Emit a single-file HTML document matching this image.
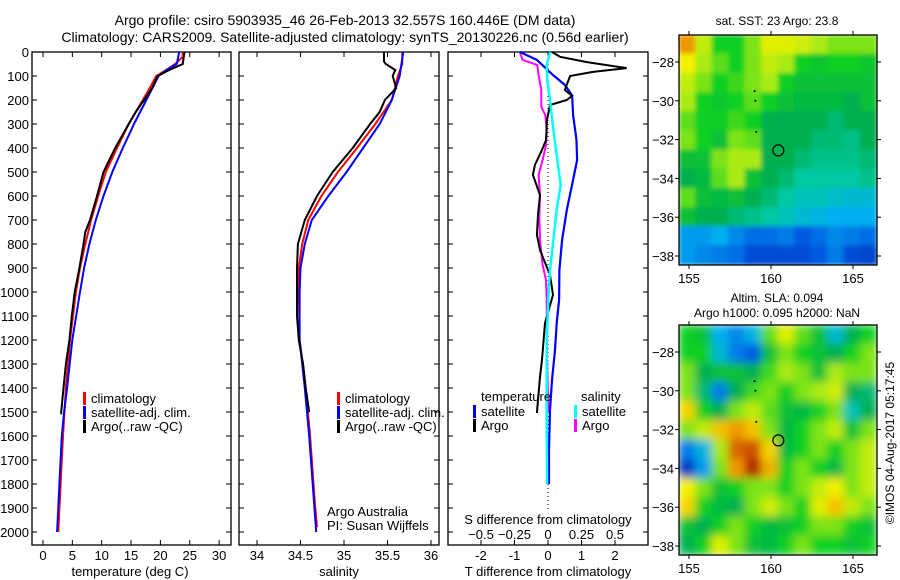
<!DOCTYPE html>
<html><head><meta charset="utf-8">
<style>
body{margin:0;background:#fff;}
svg{display:block;font-family:"Liberation Sans",sans-serif;}
text{fill:#000;}
</style></head>
<body>
<svg id="c" width="900" height="580" viewBox="0 0 900 580" xmlns="http://www.w3.org/2000/svg">
<defs>
<filter id="blurS" x="0" y="0" width="1" height="1"><feGaussianBlur stdDeviation="2.5" edgeMode="duplicate"/></filter>
<filter id="blurA" x="0" y="0" width="1" height="1"><feGaussianBlur stdDeviation="4.5" edgeMode="duplicate"/></filter>
<clipPath id="clipSST"><rect x="679" y="35" width="198" height="230"/></clipPath>
<clipPath id="clipSLA"><rect x="679" y="325" width="198" height="230"/></clipPath>
</defs>
<text x="345" y="25" text-anchor="middle" font-size="14">Argo profile: csiro 5903935_46 26-Feb-2013 32.557S 160.446E (DM data)</text>
<text x="345" y="42" text-anchor="middle" font-size="14">Climatology: CARS2009. Satellite-adjusted climatology: synTS_20130226.nc (0.56d earlier)</text>
<g id="g"></g>
</svg>
<script>
// ---------- data ----------
const tempDepth = [0,20,50,75,100,150,200,300,400,500,600,700,800,900,1000,1200,1400,1600,1800,2000];
const tempClim  = [23.8,23.8,22.5,21,19.3,18.2,17,14.6,12.6,10.7,9.4,8.2,7.2,6.3,5.6,4.6,3.9,3.4,3.0,2.6];
const tempSatDepth = [0,50,75,100,200,300,400,500,600,700,800,900,1000,1200,1400,1500,1600,1800,2000];
const tempSat   = [23.2,22.8,21,19.7,17.6,15.5,13.6,11.8,10.3,9,7.9,7,6.3,5,4.1,3.6,3.2,2.8,2.4];
const argoDepth = [0,50,75,100,150,200,250,300,400,500,600,700,750,800,900,1000,1100,1200,1300,1400,1500,1510];
const argoTemp  = [24.1,23.8,21.5,19.5,18.6,17.2,15.8,14.6,12.3,10.3,9.2,8,7.2,6.9,6.2,5.4,4.9,4.5,3.9,3.5,3.1,3.1];
const salDepth = [0,50,100,200,300,400,500,600,700,800,900,1000,1200,1400,1600,1800,1900,1980];
const salClim  = [35.67,35.67,35.62,35.55,35.36,35.15,34.93,34.74,34.59,34.52,34.48,34.48,34.49,34.56,34.61,34.65,34.67,34.69];
const salSatDepth = [0,100,200,300,400,500,600,700,800,900,1000,1200,1400,1600,1800,2000];
const salSat   = [35.68,35.64,35.55,35.41,35.22,35.03,34.82,34.63,34.55,34.5,34.49,34.49,34.55,34.6,34.64,34.68];
const argoSalDepth = [0,40,50,75,100,150,200,250,300,400,500,600,700,800,900,1000,1100,1200,1300,1400,1500];
const argoSal  = [35.46,35.46,35.48,35.59,35.56,35.6,35.47,35.41,35.3,35.1,34.87,34.69,34.55,34.47,34.46,34.46,34.46,34.48,34.53,34.56,34.6];
const dTArgoDepth = [0,20,42,67,83,100,158,183,200,221,283,367,408,471,512,596,679,762,825,929,1012,1129,1283,1354,1450,1504];
const dTArgo = [0.12,0.36,1.16,2.35,1.34,0.66,0.5,0.72,0.56,0.06,-0.03,-0.06,-0.18,-0.39,-0.45,-0.24,-0.3,-0.33,-0.24,0.06,0.15,-0.09,-0.18,-0.24,-0.3,-0.33];
const dTSatDepth = [0,33,96,137,180,262,367,450,533,658,783,908,1033,1129,1242,1367,1492,1658,1800];
const dTSat = [-0.84,-0.33,0.15,0.5,0.72,0.75,0.85,0.87,0.75,0.56,0.42,0.34,0.33,0.26,0.21,0.12,0.06,0.03,0.03];
const dSArgoDepth = [0,33,54,96,158,200,229,262,325,388,450,512,596,679,783,887,950,1033,1283,1450,1500];
const dSArgo = [-0.21,-0.19,-0.08,-0.07,-0.05,-0.05,-0.05,-0.02,-0.01,-0.015,-0.04,-0.07,-0.06,-0.065,-0.06,-0.04,-0.015,-0.01,-0.007,0,0.005];
const dSSatDepth = [0,54,117,200,325,471,554,658,783,908,992,1200,1500,1800];
const dSSat = [0.015,-0.01,-0.005,0.015,0.04,0.075,0.095,0.065,0.04,0.015,0.005,-0.01,-0.01,-0.007];
const depthTicks = [0,100,200,300,400,500,600,700,800,900,1000,1100,1200,1300,1400,1500,1600,1700,1800,1900,2000];
const tTicks = [0,5,10,15,20,25,30];
const sTicks = [34,34.5,35,35.5,36];
const sTickLabels = ["34","34.5","35","35.5","36"];
const dTTicks = [-2,-1,0,1,2];
const dSTicks = [-0.5,-0.25,0,0.25,0.5];
const lonTicks = [155,160,165];
const latTicks = [-28,-30,-32,-34,-36,-38];
const sstGrid = [
[.85,.68,.55,.55,.62,.72,.72,.7,.65,.62,.62,.62],
[.75,.65,.6,.55,.62,.68,.65,.55,.52,.55,.55,.52],
[.68,.62,.55,.58,.62,.65,.55,.5,.5,.5,.5,.5],
[.65,.55,.52,.55,.6,.55,.5,.48,.48,.48,.45,.5],
[.6,.55,.55,.58,.55,.45,.45,.45,.45,.42,.45,.45],
[.62,.55,.5,.62,.6,.45,.45,.45,.42,.42,.4,.45],
[.5,.5,.62,.65,.65,.45,.45,.42,.4,.4,.4,.42],
[.45,.48,.6,.65,.5,.45,.42,.38,.38,.38,.38,.4],
[.6,.5,.48,.5,.45,.42,.38,.35,.35,.33,.32,.32],
[.5,.45,.45,.42,.4,.38,.35,.32,.3,.28,.28,.28],
[.25,.25,.28,.22,.18,.18,.2,.15,.18,.22,.2,.18],
[.25,.22,.2,.18,.12,.12,.12,.12,.15,.2,.12,.1]];
const slaGrid = [
[.55,.5,.28,.22,.3,.6,.72,.6,.5,.32,.45,.55],
[.55,.55,.32,.2,.15,.5,.62,.55,.5,.45,.55,.62],
[.62,.45,.5,.5,.45,.58,.65,.62,.5,.65,.62,.62],
[.62,.42,.2,.45,.58,.62,.55,.62,.65,.7,.45,.42],
[.78,.55,.45,.62,.68,.6,.5,.48,.55,.62,.35,.45],
[.62,.68,.8,.85,.8,.62,.48,.55,.62,.68,.5,.62],
[.2,.3,.65,.9,.92,.78,.48,.55,.62,.55,.62,.68],
[.08,.25,.62,.85,.97,.82,.55,.62,.55,.48,.62,.68],
[.75,.62,.5,.55,.62,.62,.55,.62,.68,.75,.62,.68],
[.78,.55,.48,.45,.62,.7,.62,.55,.72,.8,.68,.62],
[.5,.45,.55,.62,.55,.48,.5,.55,.62,.62,.55,.5],
[.45,.55,.72,.62,.5,.48,.55,.62,.55,.55,.5,.55]];
const trackLon = [159.0,159.05,159.1];
const trackLat = [-29.5,-30.0,-31.6];
const floatLon = 160.446, floatLat = -32.557;

// ---------- helpers ----------
const NS="http://www.w3.org/2000/svg";
const G=document.getElementById('g');
function mk(tag,attrs,parent){const e=document.createElementNS(NS,tag);for(const k in attrs)e.setAttribute(k,attrs[k]);(parent||G).appendChild(e);return e;}
function txt(x,y,s,attrs){const e=mk('text',Object.assign({x:x,y:y,'font-size':13},attrs||{}));e.textContent=s;return e;}
const yD = d => 52 + d*0.24;
const xT = t => 43 + t*5.87;
const xS = s => 257 + (s-34)*87;
const xdT = t => 548 + t*33.5;
const xdS = s => 548 + s*134;
function line(xs,ys,fx,color,name,w){
  const pts=xs.map((v,i)=>fx(v).toFixed(1)+','+yD(ys[i]).toFixed(1)).join(' ');
  const p=mk('polyline',{points:pts,fill:'none',stroke:color,'stroke-width':w||2});
  
  
}
function frame(x0,x1,name){
  const r=mk('rect',{x:x0,y:52,width:x1-x0,height:493,fill:'none',stroke:'#000','stroke-width':1.3});
  
  
  depthTicks.forEach(d=>{mk('line',{x1:x0,x2:x0+5,y1:yD(d),y2:yD(d),stroke:'#000'});mk('line',{x1:x1-5,x2:x1,y1:yD(d),y2:yD(d),stroke:'#000'});});
}
function xticks(vals,fx,labels,ly,name){
  vals.forEach((v,i)=>{const x=fx(v);mk('line',{x1:x,x2:x,y1:545,y2:540,stroke:'#000'});mk('line',{x1:x,x2:x,y1:52,y2:57,stroke:'#000'});
    const t=txt(x,ly,labels[i],{'text-anchor':'middle'});
    
    });
}
function legendItem(x,y,color,label){
  const m=mk('rect',{x:x,y:y-11,width:3,height:13,fill:color});
  
  
  const t=txt(x+8,y,label);
  
  
}

// ---------- panel 1 ----------
frame(32,231,'temperature-panel');
depthTicks.forEach(d=>{const t=txt(29,yD(d)+5,String(d),{'text-anchor':'end'});
  
  });
xticks(tTicks,xT,tTicks.map(String),560,'temperature-tick-label');
txt(130,576,'temperature (deg C)',{'text-anchor':'middle'});
line(tempClim,tempDepth,xT,'#f00','temp-climatology-line');
line(tempSat,tempSatDepth,xT,'#00f','temp-satellite-line');
line(argoTemp,argoDepth,xT,'#000','temp-argo-line');
legendItem(83,403,'#f00','climatology');
legendItem(83,417,'#00f','satellite-adj. clim.');
legendItem(83,431,'#000','Argo(..raw -QC)');

// ---------- panel 2 ----------
frame(239,439,'salinity-panel');
xticks(sTicks,xS,sTickLabels,560,'salinity-tick-label');
txt(339,576,'salinity',{'text-anchor':'middle'});
line(salClim,salDepth,xS,'#f00','sal-climatology-line');
line(salSat,salSatDepth,xS,'#00f','sal-satellite-line');
line(argoSal,argoSalDepth,xS,'#000','sal-argo-line');
legendItem(337,403,'#f00','climatology');
legendItem(337,417,'#00f','satellite-adj. clim.');
legendItem(337,431,'#000','Argo(..raw -QC)');
txt(327,516,'Argo Australia');
txt(327,530,'PI: Susan Wijffels');

// ---------- panel 3 ----------
frame(448,648,'difference-panel');
xticks(dTTicks,xdT,dTTicks.map(String),560,'t-diff-tick-label');
dSTicks.forEach(v=>{const t=txt(xdS(v),539,String(v).replace('-','\u2212'),{'text-anchor':'middle'});
  
  });
txt(548,524,'S difference from climatology',{'text-anchor':'middle'});
txt(548,576,'T difference from climatology',{'text-anchor':'middle'});
mk('line',{x1:548,x2:548,y1:52,y2:510,stroke:'#000','stroke-dasharray':'1,3'});
line(dSArgo,dSArgoDepth,xdS,'#f0f','dS-argo-line');
line(dTSat,dTSatDepth,xdT,'#00f','dT-satellite-line',2.2);
line(dTArgo,dTArgoDepth,xdT,'#000','dT-argo-line');
line(dSSat,dSSatDepth,xdS,'#0ff','dS-satellite-line',2.5);
txt(481,401,'temperature');
txt(581,401,'salinity');
legendItem(473,416,'#00f','satellite');
legendItem(473,430,'#000','Argo');
legendItem(574,416,'#0ff','satellite');
legendItem(574,430,'#f0f','Argo');

// ---------- maps ----------
const cmapStops=[[0,[0,30,160]],[.15,[0,90,225]],[.28,[0,175,240]],[.38,[0,200,160]],[.45,[0,176,80]],[.55,[16,208,32]],[.65,[170,235,20]],[.75,[245,240,0]],[.85,[240,150,0]],[.95,[190,50,0]],[1,[160,0,0]]];
function cmap(v){for(let i=1;i<cmapStops.length;i++){if(v<=cmapStops[i][0]){const a=cmapStops[i-1],b=cmapStops[i];const f=(v-a[0])/(b[0]-a[0]);
  return 'rgb('+a[1].map((c,k)=>Math.round(c+(b[1][k]-c)*f)).join(',')+')';}}return 'rgb(160,0,0)';}
function drawMap(y0,grid,filt,clip,name){
  const x0=679,w=198,h=230;
  const xL=lon=>689+(lon-155)*16.4;
  const yL=lat=>y0+27+(-28-lat)*19.4;
  const grp=mk('g',{'clip-path':'url(#'+clip+')'});
  
  
  const inner=mk('g',{filter:'url(#'+filt+')'},grp);
  const nr=grid.length,nc=grid[0].length;
  grid.forEach((row,r)=>row.forEach((v,c)=>{
    const cell=mk('rect',{x:x0+c*w/nc-0.5,y:y0+r*h/nr-0.5,width:w/nc+1,height:h/nr+1,fill:cmap(v)},inner);
    
    
  }));
  trackLon.forEach((lo,i)=>{const d=mk('circle',{cx:xL(lo),cy:yL(trackLat[i]),r:1,fill:'#000'});
    
    });
  const fc=mk('circle',{cx:xL(floatLon),cy:yL(floatLat),r:5.5,fill:'none',stroke:'#000','stroke-width':1.2});
  
  
  mk('rect',{x:x0,y:y0,width:w,height:h,fill:'none',stroke:'#000','stroke-width':1.3});
  lonTicks.forEach(lo=>{const x=xL(lo);mk('line',{x1:x,x2:x,y1:y0,y2:y0-4,stroke:'#000'});mk('line',{x1:x,x2:x,y1:y0+h,y2:y0+h+4,stroke:'#000'});
    const t=txt(x,y0+h+18,String(lo),{'text-anchor':'middle'});
    
    });
  latTicks.forEach(la=>{const y=yL(la);mk('line',{x1:x0,x2:x0-4,y1:y,y2:y,stroke:'#000'});mk('line',{x1:x0+w,x2:x0+w+4,y1:y,y2:y,stroke:'#000'});
    const t=txt(674,y+5,String(la).replace('-','\u2212'),{'text-anchor':'end'});
    
    });
}
drawMap(35,sstGrid,'blurS','clipSST','sst-map');
drawMap(325,slaGrid,'blurA','clipSLA','sla-map');
txt(777,25,'sat. SST: 23 Argo: 23.8',{'text-anchor':'middle','font-size':12});
txt(777,302,'Altim. SLA: 0.094',{'text-anchor':'middle','font-size':12});
txt(777,317,'Argo h1000: 0.095 h2000: NaN',{'text-anchor':'middle','font-size':12});
const st=txt(0,0,'\u00A9IMOS 04-Aug-2017 05:17:45',{'text-anchor':'middle','font-size':12,transform:'translate(894,443) rotate(-90)'});


</script>
</body></html>
